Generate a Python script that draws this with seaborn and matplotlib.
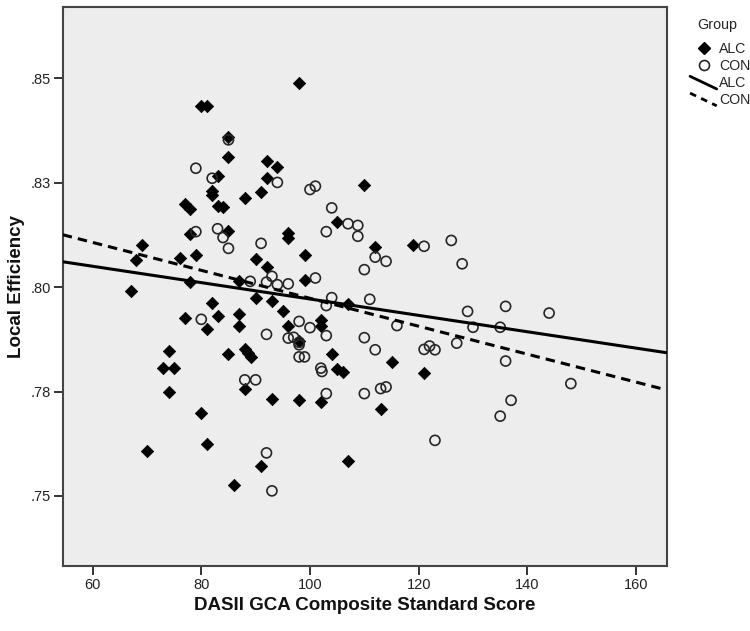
import numpy as np
import pandas as pd
import matplotlib
matplotlib.use("Agg")
import matplotlib.pyplot as plt
from matplotlib.lines import Line2D
from matplotlib.legend_handler import HandlerLine2D
import seaborn as sns

# ---------------- data ----------------
alc_gca = [98, 80, 81, 85, 85, 92, 94, 83, 92, 82, 82, 88, 91, 77, 78, 83, 84,
           78, 85, 96, 96, 105, 69, 68, 76, 79, 90, 99, 110, 92, 67, 78, 87,
           90, 93, 95, 99, 107, 82, 77, 83, 81, 87, 87, 96, 98, 102, 102, 74,
           73, 75, 74, 85, 88, 88.6, 89.1, 104.1, 104.9, 106.1, 88, 93, 98,
           102, 80, 81, 70, 91, 86, 107, 112, 119, 115, 121, 113]
alc_le = [.8488, .8435, .8435, .8361, .8313, .8302, .8289, .8266, .8262, .8230,
          .8222, .8214, .8228, .8199, .8188, .8194, .8192, .8128, .8134, .8130,
          .8118, .8155, .8100, .8066, .8069, .8078, .8067, .8078, .8245, .8048,
          .7992, .8012, .8014, .7975, .7966, .7944, .8018, .7959, .7962, .7927,
          .7932, .7900, .7936, .7906, .7906, .7872, .7922, .7908, .7847, .7806,
          .7806, .7750, .7839, .7853, .7843, .7833, .7841, .7805, .7797, .7757,
          .7731, .7729, .7725, .7699, .7624, .7608, .7571, .7527, .7583, .8096,
          .8102, .7821, .7795, .7709]

con_gca = [85, 79, 82, 94, 100, 101, 104, 107, 108.8, 108.8, 103, 79, 83, 84,
           85, 91, 89, 92, 93, 94, 96, 101, 104, 103, 80, 98, 100, 92, 96, 97,
           98, 98, 103, 98, 99, 102, 102.2, 88, 90, 103, 92, 93, 112, 114, 110,
           121, 126, 128, 111, 116, 110, 112, 121, 122, 123, 127, 129, 130, 136,
           135, 144, 136, 110, 113, 114, 148, 137, 135, 123]
con_le = [.8353, .8285, .8261, .8251, .8234, .8242, .8190, .8152, .8148, .8122,
          .8133, .8133, .8140, .8119, .8093, .8105, .8014, .8012, .8026, .8006,
          .8008, .8022, .7975, .7956, .7923, .7918, .7903, .7887, .7878, .7880,
          .7868, .7862, .7884, .7833, .7833, .7806, .7798, .7778, .7778, .7745,
          .7603, .7512, .8072, .8062, .8042, .8098, .8112, .8056, .7971, .7908,
          .7879, .7850, .7851, .7859, .7850, .7866, .7942, .7904, .7954, .7904,
          .7938, .7823, .7745, .7757, .7761, .7769, .7729, .7691, .7633]

groups = ["ALC", "CON"]
x_ticks = [60, 80, 100, 120, 140, 160]
y_ticks = [0.75, 0.775, 0.80, 0.825, 0.85]
y_tick_labels = [".75", ".78", ".80", ".83", ".85"]
x_label = "DASII GCA Composite Standard Score"
y_label = "Local Efficiency"
legend_title = "Group"

df = pd.concat([
    pd.DataFrame({"gca": alc_gca, "le": alc_le, "group": groups[0]}),
    pd.DataFrame({"gca": con_gca, "le": con_le, "group": groups[1]}),
], ignore_index=True)

# ---------------- style ----------------
sns.set_style("white")
plt.rcParams["font.family"] = ["Liberation Sans", "DejaVu Sans"]

W, H = 750, 631
fig = plt.figure(figsize=(W / 100, H / 100), dpi=100)
ax = fig.add_axes([62.7 / W, 65 / H, (666.5 - 62.7) / W, (566 - 6.7) / H])
ax.set_facecolor("#EDEDED")
ax.set_xlim(54.5, 165.6)
ax.set_ylim(0.7332, 0.8672)

alc = df[df.group == "ALC"]
con = df[df.group == "CON"]

sns.scatterplot(data=alc, x="gca", y="le", marker="D", s=40, color="black",
                edgecolor="black", linewidth=0.5, ax=ax, legend=False, zorder=3)
sns.scatterplot(data=con, x="gca", y="le", marker="o", s=52, facecolor="none",
                edgecolor="#262626", linewidth=1.2, ax=ax, legend=False, zorder=4)

lw = 2.2
sns.regplot(data=alc, x="gca", y="le", scatter=False, ci=None, truncate=False,
            color="black", line_kws=dict(lw=lw, zorder=5), ax=ax)
sns.regplot(data=con, x="gca", y="le", scatter=False, ci=None, truncate=False,
            color="black", line_kws=dict(lw=lw, ls=(0, (3.1, 2.0)), zorder=5), ax=ax)
ax.set_xlim(54.5, 165.6)
ax.set_ylim(0.7332, 0.8672)

ax.set_xticks(x_ticks)
ax.set_xticklabels([str(v) for v in x_ticks])
ax.set_yticks(y_ticks)
ax.set_yticklabels(y_tick_labels)
ax.tick_params(axis="both", direction="out", length=6.5, width=1.4,
               color="#333333", labelsize=10.5, labelcolor="#222222", pad=2,
               bottom=True, left=True, top=False, right=False)
for sp in ax.spines.values():
    sp.set_visible(True)
    sp.set_color("#444444")
    sp.set_linewidth(1.5)

ax.set_xlabel(x_label, fontsize=13.5, fontweight="bold", color="#111111")
ax.set_ylabel(y_label, fontsize=13.5, fontweight="bold", color="#111111")
ax.xaxis.label.set_va("center")
ax.yaxis.label.set_va("center")
ax.xaxis.set_label_coords(0.5, (566 - 606) / (566 - 6.7))
ax.yaxis.set_label_coords((17 - 62.7) / (666.5 - 62.7), 0.5)


class DiagHandler(HandlerLine2D):
    def create_artists(self, legend, orig_handle, xdescent, ydescent,
                       width, height, fontsize, trans):
        x0, x1 = -xdescent - 5, -xdescent + width + 4.5
        y0, y1 = -ydescent + height + 0.5, -ydescent - 1.5
        line = Line2D([x0, x1], [y0, y1])
        self.update_prop(line, orig_handle, legend)
        line.set_transform(trans)
        return [line]


h_alc = Line2D([], [], marker="D", color="black", ls="none", markersize=6.5)
h_con = Line2D([], [], marker="o", mfc="none", mec="#262626", mew=1.2,
               ls="none", markersize=7.2)
h_alc_l = Line2D([], [], color="black", lw=2.0)
h_con_l = Line2D([], [], color="black", lw=2.0, ls=(0, (2.4, 2.0)))
leg = fig.legend([h_alc, h_con, h_alc_l, h_con_l], groups + groups,
                 loc="upper left", bbox_to_anchor=(697 / W, 1 - 18.5 / H),
                 frameon=False, title=legend_title, alignment="left",
                 handlelength=0.95, handletextpad=0.6, labelspacing=0.2,
                 borderpad=0, borderaxespad=0, fontsize=10.2, title_fontsize=10.3,
                 handler_map={h_alc_l: DiagHandler(), h_con_l: DiagHandler()})
leg._legend_box.sep = 7.0

fig.savefig("out.png", dpi=100, facecolor="white")
